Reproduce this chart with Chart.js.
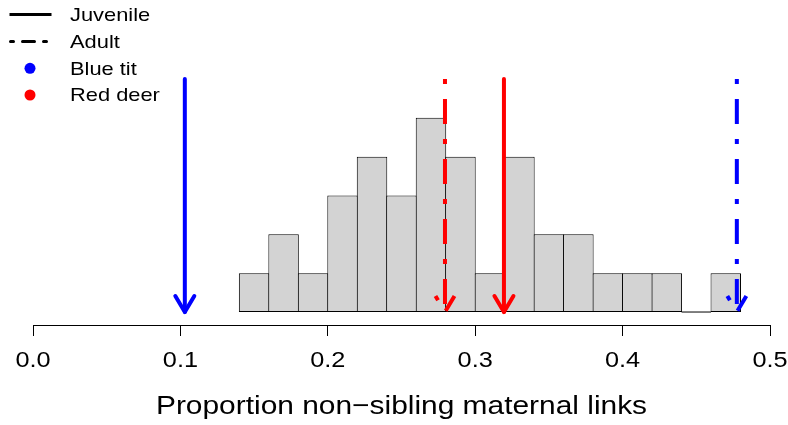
<!DOCTYPE html>
<html>
<head>
<meta charset="utf-8">
<script src="https://cdn.jsdelivr.net/npm/chart.js@4.4.1/dist/chart.umd.min.js"></script>
<style>
html,body{margin:0;padding:0;background:#fff;}
#wrap{position:relative;width:788px;height:425px;overflow:hidden;}
#c{position:absolute;left:0;top:0;}
#legend{position:absolute;left:0;top:0;width:220px;height:110px;font-family:"Liberation Sans",Arial,sans-serif;font-size:19px;color:#000;}
#legend svg{position:absolute;left:0;top:0;}
#legend .lab{position:absolute;left:70px;line-height:22px;white-space:nowrap;transform-origin:left center;transform:scaleX(1.15);}
</style>
</head>
<body>
<div id="wrap">
  <canvas id="c" width="788" height="425"></canvas>
  <div id="legend"></div>
</div>
<script>
// ---- data ----
const binStarts = [0.14,0.16,0.18,0.20,0.22,0.24,0.26,0.28,0.30,0.32,0.34,0.36,0.38,0.40,0.42,0.44,0.46];
const binWidth = 0.02;
const binCounts = [1,2,1,3,4,3,5,4,1,4,2,2,1,1,1,0,1];

const arrowSpecies = ['Blue tit','Red deer','Red deer','Blue tit'];
const arrowStage   = ['Juvenile','Adult','Juvenile','Adult'];
const arrowValues  = [0.103,0.2795,0.3195,0.4775];
const arrowFrom    = [6,6,6,6];
const arrowTo      = [0,0,0,0];

const xTicks = [0.0,0.1,0.2,0.3,0.4,0.5];
const xTitle = 'Proportion non\u2212sibling maternal links';

const legendStages  = ['Juvenile','Adult'];
const legendSpecies = ['Blue tit','Red deer'];

// ---- styles ----
const speciesColor = {'Blue tit':'#0000FF','Red deer':'#FF0000'};
const stageDash = {'Juvenile':[], 'Adult':[5,15,25,15]};
const stageCap = {'Juvenile':'round', 'Adult':'butt'};
const TEXT_STRETCH = 1.15;

// ---- legend (HTML) ----
(function(){
  const lg = document.getElementById('legend');
  const rowsY = [14.5, 41.5, 68.3, 95];
  let svg = '<svg width="220" height="110" xmlns="http://www.w3.org/2000/svg">';
  svg += '<line x1="9.5" y1="'+rowsY[0]+'" x2="51.5" y2="'+rowsY[0]+'" stroke="#000" stroke-width="3"/>';
  svg += '<line x1="10.5" y1="'+rowsY[1]+'" x2="51" y2="'+rowsY[1]+'" stroke="#000" stroke-width="3" stroke-linecap="round" stroke-dasharray="3 9 12 9"/>';
  svg += '<circle cx="30" cy="'+rowsY[2]+'" r="5.5" fill="'+speciesColor[legendSpecies[0]]+'"/>';
  svg += '<circle cx="30" cy="'+rowsY[3]+'" r="5.5" fill="'+speciesColor[legendSpecies[1]]+'"/>';
  svg += '</svg>';
  let html = svg;
  const labels = legendStages.concat(legendSpecies);
  labels.forEach((t,i)=>{
    html += '<div class="lab" style="top:'+(rowsY[i]-10.8).toFixed(1)+'px">'+t+'</div>';
  });
  lg.innerHTML = html;
})();

// ---- chart ----
const canvas = document.getElementById('c');
const ctx = canvas.getContext('2d');
const origFillText = ctx.fillText.bind(ctx);
ctx.fillText = function(t, x, y, mw){
  this.save();
  this.translate(x, y);
  this.scale(TEXT_STRETCH, 1);
  origFillText(t, 0, 0);
  this.restore();
};

const histData = binStarts.map((s,i)=>({x: s + binWidth/2, y: binCounts[i]}));

const datasets = [];
arrowValues.forEach((v,i)=>{
  datasets.push({
    type:'line',
    label: arrowSpecies[i] + ' ' + arrowStage[i],
    data:[{x:v,y:arrowFrom[i]},{x:v,y:arrowTo[i]}],
    borderColor: speciesColor[arrowSpecies[i]],
    borderWidth: 4,
    borderDash: stageDash[arrowStage[i]],
    borderCapStyle: stageCap[arrowStage[i]],
    pointRadius:0,
    fill:false,
    order:0,
    isArrow:true
  });
});
binCounts.forEach((c,i)=>{
  if (c === 0) {
    datasets.push({
      type:'line',
      data:[{x:binStarts[i],y:0},{x:binStarts[i]+binWidth,y:0}],
      borderColor:'#000', borderWidth:1, pointRadius:0, order:1
    });
  }
});
datasets.push({
  type:'bar',
  label:'count',
  data: histData,
  backgroundColor:'#D3D3D3',
  borderColor:'#000',
  borderWidth:1,
  borderSkipped:false,
  barPercentage:1.034,
  categoryPercentage:1,
  order:2
});

const arrowHeads = {
  id:'arrowHeads',
  afterDatasetsDraw(chart){
    const c = chart.ctx;
    chart.data.datasets.forEach((ds,i)=>{
      if(!ds.isArrow) return;
      const meta = chart.getDatasetMeta(i);
      const tip = meta.data[meta.data.length-1];
      const x = tip.x, y = tip.y;
      const dx = 9.5, dy = 16;
      c.save();
      c.strokeStyle = ds.borderColor;
      c.lineWidth = ds.borderWidth;
      c.lineCap = ds.borderCapStyle || 'round';
      c.lineJoin = 'round';
      c.setLineDash(ds.borderDash || []);
      c.beginPath();
      c.moveTo(x-dx, y-dy);
      c.lineTo(x, y);
      c.lineTo(x+dx, y-dy);
      c.stroke();
      c.restore();
    });
  }
};

new Chart(ctx, {
  type:'bar',
  data:{datasets},
  options:{
    responsive:false,
    animation:false,
    devicePixelRatio:1,
    layout:{padding:{left:33,right:18,top:60,bottom:0}},
    plugins:{legend:{display:false},tooltip:{enabled:false}},
    scales:{
      x:{
        type:'linear',
        min:0, max:0.5,
        offset:false,
        afterBuildTicks(scale){ scale.ticks = xTicks.map(v=>({value:v})); },
        afterFit(scale){ scale.height = 100; scale.paddingLeft = 0; scale.paddingRight = 0; },
        ticks:{
          callback:(v)=>Number(v).toFixed(1),
          font:{family:'Liberation Sans',size:22},
          color:'#000',
          padding:12,
          maxRotation:0,
          autoSkip:false
        },
        grid:{drawOnChartArea:false, drawTicks:true, tickLength:11, color:'#000', lineWidth:1, offset:false},
        border:{display:true,color:'#000',width:1},
        title:{display:true,text:xTitle,font:{family:'Liberation Sans',size:26},color:'#000',padding:{top:0,bottom:3}}
      },
      y:{
        type:'linear',
        display:false,
        min:-0.334, max:6.49
      }
    }
  },
  plugins:[arrowHeads]
});
</script>
</body>
</html>
